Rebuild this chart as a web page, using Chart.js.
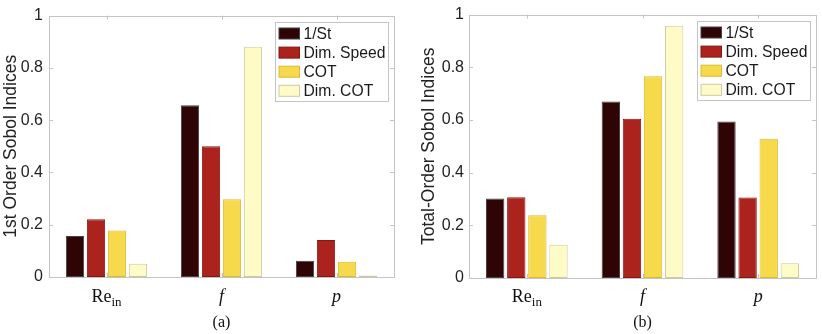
<!DOCTYPE html>
<html>
<head>
<meta charset="utf-8">
<script src="https://cdn.jsdelivr.net/npm/chart.js@4"></script>
<style>
  body { margin: 0; background: #fff; }
  .panel { position: absolute; top: 0; width: 411px; height: 334px; }
</style>
</head>
<body>
<div class="panel" style="left:0"><canvas id="first-chart" width="411" height="334"></canvas></div>
<div class="panel" style="left:411px"><canvas id="total-chart" width="411" height="334"></canvas></div>
<script>
// categories (underscore marks a subscript)
const categories = ['Re_in', 'f', 'p'];
const seriesNames = ['1/St', 'Dim. Speed', 'COT', 'Dim. COT'];
const yTicks = [0, 0.2, 0.4, 0.6, 0.8, 1];

// (a) 1st order indices
const firstInvSt = [0.157, 0.657, 0.062];
const firstDimSpeed = [0.221, 0.500, 0.142];
const firstCot = [0.178, 0.297, 0.058];
const firstDimCot = [0.051, 0.881, 0.006];

// (b) total-order indices
const totalInvSt = [0.302, 0.670, 0.594];
const totalDimSpeed = [0.307, 0.605, 0.306];
const totalCot = [0.238, 0.766, 0.529];
const totalDimCot = [0.126, 0.958, 0.056];

const fills = ['#2f0404', '#ab231c', '#f7da4b', '#fffbc6'];
const edges = ['#4a4040', '#861812', '#d9bb33', '#cfcaa4'];
const axisColor = '#c4c4c4';
const sans = '"Liberation Sans", Arial, sans-serif';
const serif = '"Liberation Serif", "Times New Roman", serif';

// box, inward ticks, legend, category labels and caption
const matlabLook = {
  id: 'matlabLook',
  afterDatasetsDraw(chart, args, opts) {
    const { ctx, chartArea: a, scales: { x, y } } = chart;
    ctx.save();
    ctx.strokeStyle = axisColor;
    ctx.lineWidth = 1;
    ctx.strokeRect(Math.round(a.left) + 0.5, Math.round(a.top) + 0.5,
      Math.round(a.right - a.left), Math.round(a.bottom - a.top));
    ctx.beginPath();
    yTicks.forEach((v) => {
      const py = Math.round(y.getPixelForValue(v)) + 0.5;
      ctx.moveTo(a.left, py); ctx.lineTo(a.left + 4, py);
      ctx.moveTo(a.right, py); ctx.lineTo(a.right - 4, py);
    });
    categories.forEach((c, i) => {
      const px = Math.round(x.getPixelForValue(i)) + 0.5;
      ctx.moveTo(px, a.bottom); ctx.lineTo(px, a.bottom - 4);
      ctx.moveTo(px, a.top); ctx.lineTo(px, a.top + 4);
    });
    ctx.stroke();

    // legend
    const bw = 113, bh = 79;
    const bx = Math.round(a.right - 6 - bw) + 0.5, by = Math.round(a.top + 6) + 0.5;
    ctx.fillStyle = '#fff';
    ctx.fillRect(bx, by, bw, bh);
    ctx.strokeStyle = axisColor;
    ctx.strokeRect(bx, by, bw, bh);
    ctx.font = '15.7px ' + sans;
    ctx.textBaseline = 'middle';
    chart.data.datasets.forEach((ds, i) => {
      const cy = by + 11 + i * 19.1;
      ctx.fillStyle = ds.backgroundColor;
      ctx.fillRect(bx + 3.5, cy - 5.5, 20.5, 11);
      ctx.strokeStyle = ds.borderColor;
      ctx.strokeRect(bx + 3.5, cy - 5.5, 20.5, 11);
      ctx.fillStyle = '#1a1a1a';
      ctx.fillText(ds.label, bx + 28, cy + 1);
    });

    // category labels
    ctx.fillStyle = '#111';
    ctx.textBaseline = 'alphabetic';
    categories.forEach((c, i) => {
      const [main, sub] = c.split('_');
      const mainFont = (main.length === 1 ? 'italic ' : '') + '18px ' + serif;
      ctx.font = mainFont;
      const w1 = ctx.measureText(main).width;
      ctx.font = '13px ' + serif;
      const w2 = sub ? ctx.measureText(sub).width : 0;
      const left = x.getPixelForValue(i) - (w1 + w2) / 2;
      ctx.font = mainFont;
      ctx.textAlign = 'left';
      ctx.fillText(main, left, 302);
      if (sub) {
        ctx.font = '13px ' + serif;
        ctx.fillText(sub, left + w1, 306);
      }
    });

    // caption
    ctx.font = '16px ' + serif;
    ctx.textAlign = 'center';
    ctx.fillText(opts.caption, (a.left + a.right) / 2, 327);
    ctx.restore();
  }
};

function makeChart(id, values, yTitle, caption, leftWidth, padTop, padRight, bottomHeight, labelPad, titlePad) {
  return new Chart(document.getElementById(id), {
    type: 'bar',
    data: {
      labels: categories,
      datasets: seriesNames.map((name, i) => ({
        label: name,
        data: values[i],
        backgroundColor: fills[i],
        borderColor: edges[i],
        borderWidth: 1,
        borderSkipped: false,
        categoryPercentage: 0.73,
        barPercentage: 0.87,
      })),
    },
    options: {
      responsive: false,
      animation: false,
      layout: { padding: { top: padTop, right: padRight, left: 0, bottom: 0 } },
      plugins: {
        legend: { display: false },
        tooltip: { enabled: false },
        matlabLook: { caption: caption },
      },
      scales: {
        x: {
          offset: true,
          grid: { display: false },
          border: { display: false },
          ticks: { display: false },
          afterFit: (s) => { s.height = bottomHeight; },
        },
        y: {
          min: 0,
          max: 1,
          grid: { display: false, drawTicks: false },
          border: { display: false },
          afterBuildTicks: (s) => { s.ticks = yTicks.map((v) => ({ value: v })); },
          ticks: {
            padding: labelPad,
            color: '#222',
            font: { family: sans, size: 16 },
            callback: (v) => String(+v.toFixed(1)),
          },
          title: {
            display: true,
            text: yTitle,
            color: '#222',
            font: { family: sans, size: 17.5 },
            padding: { top: titlePad, bottom: 0 },
          },
          afterFit: (s) => { s.width = leftWidth; },
        },
      },
    },
    plugins: [matlabLook],
  });
}

makeChart('first-chart', [firstInvSt, firstDimSpeed, firstCot, firstDimCot],
  '1st Order Sobol Indices', '(a)', 49, 9, 17, 57, 6, 1);
makeChart('total-chart', [totalInvSt, totalDimSpeed, totalCot, totalDimCot],
  'Total-Order Sobol Indices', '(b)', 58, 8, 6, 56, 5, 8);
</script>
</body>
</html>
